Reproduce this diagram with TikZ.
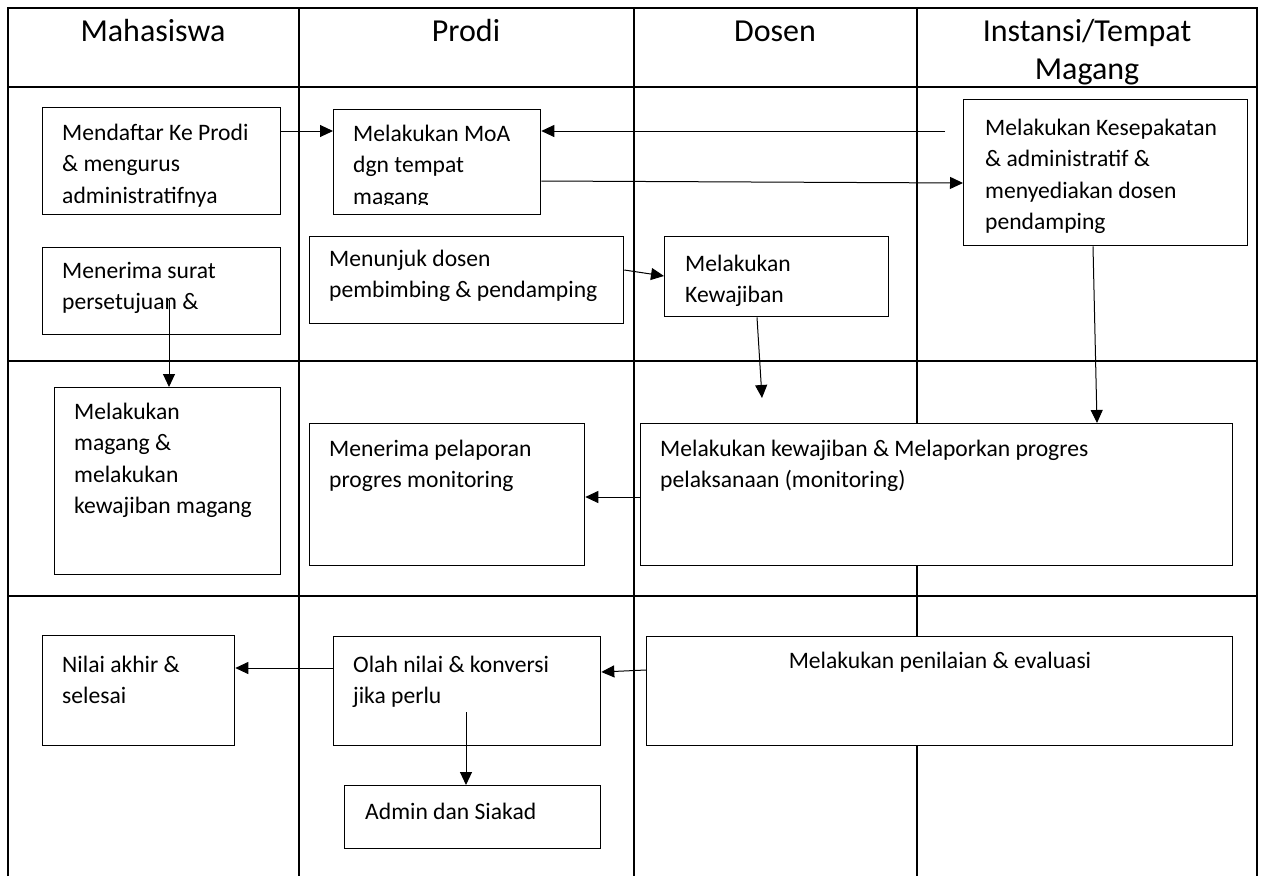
\documentclass[tikz,border=0pt]{standalone}
\usepackage{fontspec}
\setmainfont{Carlito}
\usetikzlibrary{arrows.meta,calc}
\tikzset{
  gridline/.style={line width=2.4pt},
  box/.style={draw, line width=1.3pt, fill=white, inner sep=0pt, anchor=north west},
  txt/.style={anchor=base west, align=left, inner sep=0pt, font=\fontsize{23.6}{31.5}\selectfont},
  head/.style={anchor=base, align=center, inner sep=0pt, font=\fontsize{32}{38}\selectfont},
  arr/.style={line width=1pt, -{Triangle[length=13pt,width=12pt]}},
}
\begin{document}
\begin{tikzpicture}[x=1pt,y=-1pt]
\useasboundingbox (0,0) rectangle (1264,876);
% grid
\draw[gridline] (8,876) -- (8,8) -- (1257,8) -- (1257,876);
\draw[gridline] (299,8) -- (299,876);
\draw[gridline] (634,8) -- (634,876);
\draw[gridline] (917,8) -- (917,876);
\draw[gridline] (8,87) -- (1257,87);
\draw[gridline] (8,361) -- (1257,361);
\draw[gridline] (8,596) -- (1257,596);
% headers
\node[head] (h1) at (153,41) {Mahasiswa};
\node[head] (h2) at (466,41) {Prodi};
\node[head] (h3) at (775,41) {Dosen};
\node[head] (h4) at (1087,79) {Instansi/Tempat\\Magang};
% boxes
\node[box, minimum width=238pt, minimum height=107pt] (b1) at (42,107) {};
\node[box, minimum width=207pt, minimum height=105pt] (b2) at (333,109) {};
\node[box, minimum width=284pt, minimum height=146pt] (b3) at (963,99) {};
\node[box, minimum width=238pt, minimum height=87pt] (b4) at (42,247) {};
\node[box, minimum width=314pt, minimum height=87pt] (b5) at (309,236) {};
\node[box, minimum width=224pt, minimum height=80pt] (b6) at (664,236) {};
\node[box, minimum width=226pt, minimum height=187pt] (b7) at (54,387) {};
\node[box, minimum width=275pt, minimum height=142pt] (b8) at (309,423) {};
\node[box, minimum width=592pt, minimum height=142pt] (b9) at (640,423) {};
\node[box, minimum width=192pt, minimum height=110pt] (b10) at (42,635) {};
\node[box, minimum width=267pt, minimum height=109pt] (b11) at (333,636) {};
\node[box, minimum width=256pt, minimum height=63pt] (b12) at (344,785) {};
\node[box, minimum width=586pt, minimum height=109pt] (b13) at (646,636) {};
% texts (base anchor = last line baseline)
\node[txt] (t1) at (62,203) {Mendaftar Ke Prodi\\\& mengurus\\administratifnya};
\begin{scope}
\clip (333,109) rectangle (540,204);
\node[txt] (t2) at (353,204) {Melakukan MoA\\dgn tempat\\magang};
\end{scope}
\node[txt] (t3) at (985,229.5) {Melakukan Kesepakatan\\\& administratif \&\\menyediakan dosen\\pendamping};
\node[txt] (t4) at (62,309.5) {Menerima surat\\persetujuan \&};
\node[txt] (t5) at (329,297.5) {Menunjuk dosen\\pembimbing \& pendamping};
\node[txt] (t6) at (685,302.5) {Melakukan\\Kewajiban};
\node[txt] (t7) at (74,513.5) {Melakukan\\magang \&\\melakukan\\kewajiban magang};
\node[txt] (t8) at (329,487.5) {Menerima pelaporan\\progres monitoring};
\node[txt] (t9) at (660,487.5) {Melakukan kewajiban \& Melaporkan progres\\pelaksanaan (monitoring)};
\node[txt] (t10) at (62,703.5) {Nilai akhir \&\\selesai};
\node[txt] (t11) at (353,703.5) {Olah nilai \& konversi\\jika perlu};
\node[txt] (t12) at (365,819) {Admin dan Siakad};
\node[txt, anchor=base] (t13) at (940,668) {Melakukan penilaian \& evaluasi};
% connectors
\coordinate (fend) at (762,398);
\draw[arr] ($(b1.north east)+(0,24)$) -- ($(b2.north west)+(0,22)$);
\draw[arr] ($(b3.north west)+(-18,32)$) -- ($(b2.north east)+(0,22)$);
\draw[arr] ($(b2.north east)+(0,72)$) -- ($(b3.north west)+(0,84)$);
\draw[arr] ($(b5.north east)+(0,34)$) -- ($(b6.north west)+(0,40)$);
\draw[arr] ($(b4.south west)+(127,-35)$) -- ($(b7.north west)+(115,0)$);
\draw[arr] ($(b6.south west)+(93,0)$) -- (fend);
\draw[arr] ($(b3.south west)+(130,0)$) -- ($(b9.north west)+(457,0)$);
\draw[arr] ($(b9.north west)+(0,74)$) -- ($(b8.north east)+(0,74)$);
\draw[arr] ($(b11.north west)+(0,32)$) -- ($(b10.north east)+(0,33)$);
\draw[arr] ($(b13.north west)+(0,34)$) -- ($(b11.north east)+(0,36)$);
\draw[arr] ($(b11.north west)+(133,76)$) -- ($(b12.north west)+(122,0)$);
\end{tikzpicture}
\end{document}
